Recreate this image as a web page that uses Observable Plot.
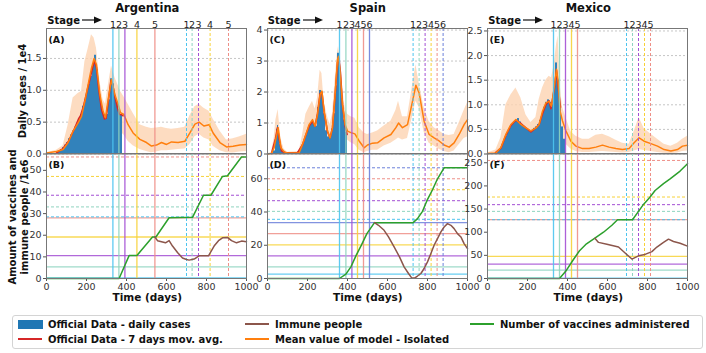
<!DOCTYPE html>
<html><head><meta charset="utf-8">
<script src="https://cdn.jsdelivr.net/npm/d3@7"></script>
<script src="https://cdn.jsdelivr.net/npm/@observablehq/plot@0.6"></script>
<style>
body{margin:0;width:706px;height:353px;position:relative;overflow:hidden;background:#fff;font-family:"DejaVu Sans",sans-serif;color:#111;}
.abs{position:absolute;white-space:nowrap;}
.c{transform:translate(-50%,-50%);}
.lv{transform:translate(0,-50%);}
.b{font-weight:bold;}
.rot{transform:translate(-50%,-50%) rotate(-90deg);}
</style></head><body>
<script>
// ---------------- DATA ----------------
const timeTicks = [0, 200, 400, 600, 800, 1000];

// Argentina
const argTopTicks = [0, 0.5, 1.0, 1.5];
const argBotTicks = [0, 10, 20, 30, 40, 50];
const argCasesDay = [50,60,70,80,90,100,110,120,130,140,150,160,170,180,190,200,210,220,230,240,250,260,270,280,290,300,310,320,330,340,350,360,370];
const argCases = [0.02,0.04,0.07,0.1,0.14,0.18,0.24,0.3,0.36,0.42,0.48,0.55,0.62,0.75,0.85,0.98,1.1,1.22,1.38,1.55,1.32,1.0,0.78,0.62,0.55,0.62,0.85,1.18,1.1,0.92,0.8,0.7,0.62];
const argAvgDay = [50,80,110,140,160,170,185,200,215,230,240,250,262,275,290,298,310,322,330,342,355,365,375,383];
const argAvg = [0.02,0.08,0.2,0.4,0.55,0.6,0.75,0.95,1.15,1.35,1.47,1.35,1.0,0.7,0.55,0.56,0.85,1.15,1.1,0.9,0.72,0.62,0.62,0.6];
const argModelDay = [0,50,83,108,133,158,175,192,208,225,238,250,267,283,295,308,325,342,358,370,387,408,433,467,500,525,550,575,600,625,658,692,717,742,763,787,813,833,867,900,933,967,1000];
const argMean = [0.015,0.04,0.07,0.18,0.36,0.49,0.59,0.83,1.09,1.35,1.5,1.4,0.93,0.67,0.57,0.85,1.17,0.93,0.78,0.65,0.62,0.46,0.33,0.23,0.18,0.125,0.14,0.18,0.15,0.19,0.18,0.2,0.33,0.47,0.5,0.44,0.46,0.33,0.18,0.11,0.12,0.14,0.15];
const argHi = [0.02,0.06,0.13,0.45,0.88,0.95,0.98,1.45,1.65,1.87,1.82,1.66,1.14,0.85,0.78,1.05,1.38,1.2,1.08,0.98,0.9,0.78,0.64,0.46,0.42,0.4,0.41,0.42,0.4,0.39,0.4,0.42,0.6,0.74,0.78,0.72,0.67,0.55,0.36,0.22,0.24,0.27,0.31];
const argLo = [0.01,0.02,0.03,0.06,0.12,0.2,0.26,0.45,0.7,0.95,1.09,1.0,0.6,0.38,0.31,0.5,0.8,0.6,0.45,0.35,0.3,0.2,0.13,0.07,0.04,0.02,0.03,0.05,0.05,0.06,0.07,0.08,0.15,0.27,0.31,0.25,0.22,0.12,0.05,0.02,0.015,0.03,0.04];
const argStage1 = [332,362,392,452,542];
const argStage2 = [700,728,760,818,910];
const argThresh1 = [0.3,5.4,10.6,19.2,28];
const argThresh2 = [28.5,33.1,38.5,47.2,56.2];
const argVaccDay = [0,363,413,452,530,547,613,730,785,822,880,905,975,1000];
const argVacc = [0,0,10.6,10.6,19.2,19.2,28.1,28.3,38.5,38.5,47.2,47.5,56.2,56.2];
const argImmDay = [542,555,575,595,613,630,655,680,700,713,738,763,790,810,838,860,880,905,925,950,975,1000];
const argImm = [19.2,17.5,17,16.5,17.5,15,12,9.5,8.8,8.5,9,10.5,10.5,10.5,15,17.5,18.8,19,17.5,16.5,17.3,17];

// Spain
const spaTopTicks = [0, 1, 2, 3, 4];
const spaBotTicks = [0, 20, 40, 60];
const spaCasesDay = [20,30,40,45,50,55,60,70,80,90,100,110,120,130,140,150,160,170,180,190,200,210,220,230,240,250,260,270,280,290,300,310,320,330,340,350,360,370,380,390];
const spaCases = [0.02,0.1,0.45,0.8,0.92,0.6,0.3,0.12,0.06,0.04,0.03,0.03,0.03,0.03,0.04,0.06,0.12,0.25,0.42,0.6,0.8,0.95,1.05,0.95,0.9,1.5,2.05,1.95,1.3,0.75,0.55,0.5,0.8,1.3,2.2,3.25,2.7,1.8,1.1,0.7];
const spaAvgDay = [20,40,50,58,70,90,150,175,192,208,225,238,250,263,272,283,300,313,325,338,350,357,365,375,388,398];
const spaAvg = [0.02,0.5,0.85,0.5,0.1,0.04,0.04,0.3,0.62,0.9,1.05,0.9,1.3,1.95,2.0,1.35,0.72,0.52,0.85,1.9,2.95,3.1,2.6,1.6,0.9,0.63];
const spaModelDay = [0,20,33,42,53,67,83,100,158,175,192,208,225,238,250,263,272,283,300,313,325,338,350,355,363,375,388,400,417,437,458,483,500,525,550,583,617,642,655,675,700,725,742,758,783,808,833,858,883,908,933,958,983,1000];
const spaMean = [0.0,0.02,0.2,0.5,0.85,0.2,0.07,0.03,0.03,0.31,0.63,0.95,1.11,0.9,1.28,1.92,2.03,1.38,0.74,0.52,0.85,1.92,3.04,3.15,2.66,1.6,0.95,0.74,0.69,0.65,0.42,0.2,0.29,0.35,0.36,0.52,0.63,0.85,1.0,0.85,0.95,1.7,2.22,1.97,1.06,0.63,0.52,0.42,0.29,0.22,0.36,0.63,0.95,1.11];
const spaHi = [0.01,0.05,0.5,1.1,1.44,0.5,0.15,0.06,0.08,0.6,1.28,1.5,1.7,1.45,1.8,2.7,2.6,1.7,1.2,0.95,1.3,2.4,3.3,3.47,3.0,2.13,1.5,1.28,1.2,1.15,0.85,0.68,0.63,0.68,0.74,0.9,1.06,1.4,1.7,1.2,1.2,2.2,2.88,2.3,1.5,1.05,0.85,0.75,0.63,0.6,0.63,1.0,1.4,1.65];
const spaLo = [0,0,0.05,0.2,0.42,0.05,0.02,0.01,0.01,0.1,0.3,0.55,0.7,0.55,0.9,1.45,1.6,1.0,0.45,0.3,0.5,1.4,2.4,2.56,2.2,1.2,0.6,0.45,0.36,0.3,0.12,0.04,0.08,0.12,0.12,0.26,0.35,0.45,0.52,0.45,0.5,1.2,1.7,1.5,0.7,0.35,0.26,0.15,0.08,0.04,0.1,0.3,0.5,0.55];
const spaStage1 = [360,392,422,450,480,510];
const spaStage2 = [728,758,788,818,848,878];
const spaThresh1 = [2.6,7,13.6,20.2,27,33.6];
const spaThresh2 = [35.6,40.4,46.8,53.4,60,66.6];
const spaVaccDay = [0,360,392,417,442,470,497,535,728,750,775,797,825,850,883,1000];
const spaVacc = [0,0,2.6,7,13.6,20.2,27,33.6,33.6,36,40.4,46.8,53.4,60,66.6,66.6];
const spaImmDay = [535,555,583,605,633,660,683,705,720,735,750,767,783,800,817,833,850,867,883,900,917,933,950,967,983,1000];
const spaImm = [33.6,32,29,25,19,13,7,3,0.5,0.3,1.5,3,6,10,15,20,24,28,31,33,32,30,27,25,21,18];

// Mexico
const mexTopTicks = [0, 0.5, 1.0, 1.5, 2.0, 2.5];
const mexBotTicks = [0, 50, 100, 150, 200, 250];
const mexCasesDay = [30,40,50,60,70,80,90,100,110,120,130,140,150,160,170,180,190,200,210,220,230,240,250,260,270,280,290,300,310,320,330,340,350,360,370,380];
const mexCases = [0.01,0.03,0.06,0.1,0.18,0.27,0.36,0.45,0.53,0.6,0.65,0.68,0.72,0.65,0.6,0.56,0.52,0.48,0.45,0.47,0.52,0.55,0.6,0.68,0.8,0.95,1.05,1.1,1.05,1.0,1.35,1.85,1.5,0.95,0.55,0.3];
const mexAvgDay = [40,67,92,117,142,167,192,217,242,258,275,292,308,317,333,345,355,365];
const mexAvg = [0.03,0.12,0.38,0.58,0.69,0.62,0.53,0.45,0.53,0.6,0.82,1.0,1.08,0.92,1.3,1.7,1.3,0.95];
const mexModelDay = [0,42,67,92,117,142,167,192,217,242,258,275,292,308,320,333,345,353,363,375,392,417,442,475,508,542,575,608,642,675,708,733,758,783,817,850,883,917,950,975,1000];
const mexMean = [0.01,0.02,0.13,0.4,0.6,0.7,0.6,0.53,0.47,0.53,0.6,0.87,1.04,1.07,0.97,1.34,1.72,1.48,0.87,0.67,0.47,0.26,0.16,0.11,0.11,0.14,0.18,0.14,0.11,0.09,0.11,0.23,0.33,0.26,0.21,0.16,0.09,0.06,0.09,0.16,0.18];
const mexHi = [0.02,0.08,0.33,1.0,1.2,1.34,1.14,0.8,0.64,0.74,1.1,1.34,1.5,1.58,1.55,1.8,2.22,2.4,1.41,0.95,0.74,0.45,0.36,0.3,0.3,0.38,0.4,0.35,0.28,0.22,0.2,0.45,0.74,0.52,0.4,0.3,0.2,0.16,0.22,0.3,0.36];
const mexLo = [0,0,0.02,0.06,0.15,0.23,0.22,0.2,0.2,0.22,0.25,0.38,0.5,0.53,0.5,0.7,0.87,0.8,0.45,0.3,0.2,0.1,0.05,0.03,0.03,0.04,0.05,0.04,0.03,0.02,0.03,0.06,0.09,0.07,0.05,0.03,0.015,0.01,0.02,0.05,0.06];
const mexStage1 = [330,360,390,420,450];
const mexStage2 = [695,725,755,785,815];
const mexThresh1 = [0.7,18,31,48,127];
const mexThresh2 = [127,145,159.5,176,255];
const mexVaccDay = [0,360,395,428,460,495,537,580,622,650,725,755,780,813,838,880,913,963,1000];
const mexVacc = [0,0,18,40,60,75,87,100,115,127,127,145,160,176,190,205,215,232,248];
const mexImmDay = [537,555,597,655,688,722,755,788,822,847,880,905,930,963,1000];
const mexImm = [87,78,74,68,55,42,49,52,58,68,78,85,80,76,70];

// ---------------- BUILD ----------------
const stageColors = ["#4cc4ef","#8ed4bf","#a34fd4","#f7d238","#ee8f87","#6c80da"];
const rows = (t, v) => t.map((d, i) => ({t: d, v: v[i]}));
const barRows = (t, v, end) => v.map((y, i) => ({x1: t[i], x2: i + 1 < t.length ? t[i + 1] : end, y}));
const modelRows = (t, m, lo, hi) => t.map((d, i) => ({t: d, m: m[i], lo: lo[i], hi: hi[i]}));
const stageRows = s => s.map((x, i) => ({x, label: String(i + 1), color: stageColors[i]}));
const threshRows = s => s.map((y, i) => ({y, color: stageColors[i]}));

const countries = [
  {name: "Argentina", x0: 46.3, top: "(A)", bot: "(B)", topMax: 1.97, botMax: 57.8,
   topTicks: argTopTicks, botTicks: argBotTicks, topFmt: d3.format(".1f"),
   bars: barRows(argCasesDay, argCases, 380), avg: rows(argAvgDay, argAvg),
   model: modelRows(argModelDay, argMean, argLo, argHi),
   s1: stageRows(argStage1), s2: stageRows(argStage2), t1: threshRows(argThresh1), t2: threshRows(argThresh2),
   vacc: rows(argVaccDay, argVacc), imm: rows(argImmDay, argImm)},
  {name: "Spain", x0: 266.8, top: "(C)", bot: "(D)", topMax: 4.05, botMax: 75.2,
   topTicks: spaTopTicks, botTicks: spaBotTicks, topFmt: d3.format("d"),
   bars: barRows(spaCasesDay, spaCases, 400), avg: rows(spaAvgDay, spaAvg),
   model: modelRows(spaModelDay, spaMean, spaLo, spaHi),
   s1: stageRows(spaStage1), s2: stageRows(spaStage2), t1: threshRows(spaThresh1), t2: threshRows(spaThresh2),
   vacc: rows(spaVaccDay, spaVacc), imm: rows(spaImmDay, spaImm)},
  {name: "Mexico", x0: 487.3, top: "(E)", bot: "(F)", topMax: 2.55, botMax: 270,
   topTicks: mexTopTicks, botTicks: mexBotTicks, topFmt: d3.format(".1f"),
   bars: barRows(mexCasesDay, mexCases, 390), avg: rows(mexAvgDay, mexAvg),
   model: modelRows(mexModelDay, mexMean, mexLo, mexHi),
   s1: stageRows(mexStage1), s2: stageRows(mexStage2), t1: threshRows(mexThresh1), t2: threshRows(mexThresh2),
   vacc: rows(mexVaccDay, mexVacc), imm: rows(mexImmDay, mexImm)}
];

const style = {fontFamily: "DejaVu Sans", fontSize: "9.5px", color: "#333", overflow: "visible", background: "transparent"};
const ML = 34, MR = 6, PW = 200;

function place(el, left, top) {
  const d = document.createElement("div");
  d.className = "abs";
  d.style.left = left + "px"; d.style.top = top + "px";
  d.appendChild(el);
  document.body.appendChild(d);
}
function txt(html, left, top, cls, extra) {
  const d = document.createElement("div");
  d.className = "abs " + (cls || "");
  d.style.left = left + "px"; d.style.top = top + "px";
  if (extra) Object.assign(d.style, extra);
  d.innerHTML = html;
  document.body.appendChild(d);
  return d;
}

function verticals(c) {
  return [
    Plot.ruleX(c.s1, {x: "x", stroke: "color", strokeWidth: 1.3, strokeOpacity: 0.9}),
    Plot.ruleX(c.s2, {x: "x", stroke: "color", strokeWidth: 1, strokeDasharray: "3,2"})
  ];
}

for (const c of countries) {
  const top = Plot.plot({
    width: PW + ML + MR, height: 28 + 125.5, marginLeft: ML, marginRight: MR, marginTop: 28, marginBottom: 0,
    x: {domain: [0, 1000], axis: null},
    y: {domain: [0, c.topMax], axis: null},
    style,
    marks: [
      Plot.gridY(c.topTicks, {stroke: "#b8b8b8", strokeDasharray: "2,2", strokeOpacity: 0.8}),
      Plot.areaY(c.model, {x: "t", y1: "lo", y2: "hi", fill: "#fdd3b2", fillOpacity: 0.8}),
      Plot.rectY(c.bars, {x1: "x1", x2: "x2", y1: 0, y2: "y", fill: "#3282bb"}),
      Plot.line(c.avg, {x: "t", y: "v", stroke: "#d62728", strokeWidth: 1.6}),
      Plot.line(c.model, {x: "t", y: "m", stroke: "#ff7f0e", strokeWidth: 1.5}),
      ...verticals(c),
      Plot.text(c.s1, {x: "x", text: "label", frameAnchor: "top", dy: -7.5, fontSize: 9.5, fill: "#222"}),
      Plot.text(c.s2, {x: "x", text: "label", frameAnchor: "top", dy: -7.5, fontSize: 9.5, fill: "#222"}),
      Plot.text([c.top], {frameAnchor: "top-left", dx: 2, dy: 8, fontWeight: "bold", fontSize: 9.5, fill: "#111"}),
      Plot.axisY(c.topTicks, {tickSize: 3, tickPadding: 2, tickFormat: c.topFmt, label: null, stroke: "#555"}),
      Plot.frame({stroke: "#777"})
    ]
  });
  place(top, c.x0 - ML, -0.5);

  const bot = Plot.plot({
    width: PW + ML + MR, height: 125 + 30, marginLeft: ML, marginRight: MR, marginTop: 0, marginBottom: 30,
    x: {domain: [0, 1000], axis: null},
    y: {domain: [0, c.botMax], axis: null},
    style,
    marks: [
      Plot.ruleY(c.t1, {y: "y", stroke: "color", strokeWidth: 1.3, strokeOpacity: 0.85}),
      Plot.ruleY(c.t2, {y: "y", stroke: "color", strokeWidth: 1, strokeDasharray: "3,2"}),
      ...verticals(c),
      Plot.line(c.vacc, {x: "t", y: "v", stroke: "#2ca02c", strokeWidth: 1.5}),
      Plot.line(c.imm, {x: "t", y: "v", stroke: "#8c564b", strokeWidth: 1.5}),
      Plot.text([c.bot], {frameAnchor: "top-left", dx: 2, dy: 8, fontWeight: "bold", fontSize: 9.5, fill: "#111"}),
      Plot.axisY(c.botTicks, {tickSize: 3, tickPadding: 2, tickFormat: d3.format("d"), label: null, stroke: "#555"}),
      Plot.axisX(timeTicks, {tickSize: 3, tickPadding: 2, tickFormat: d3.format("d"), label: null, stroke: "#555"}),
      Plot.frame({stroke: "#777"})
    ]
  });
  place(bot, c.x0 - ML, 153.3);

  // titles and labels
  txt(c.name, c.x0 + 101, 8, "c b", {fontSize: "11.5px"});
  txt("Time (days)", c.x0 + 101, 297, "c b", {fontSize: "10.5px"});
  txt("Stage", c.x0 + 1, 20, "lv b", {fontSize: "10px"});
  txt('<svg width="20" height="8"><line x1="0" y1="4" x2="14" y2="4" stroke="#111" stroke-width="1.2"/><polygon points="12,0.5 20,4 12,7.5" fill="#111"/></svg>',
      c.x0 + 36, 16, "", {lineHeight: "0"});
}

// y labels
txt("Daily cases / 1e4", 22, 91, "rot b", {fontSize: "10px"});
txt("Amount of vaccines and", 12, 217, "rot b", {fontSize: "10px"});
txt("immune people /1e6", 24, 217, "rot b", {fontSize: "10px"});

// legend
const lg = txt("", 12, 315, "", {width: "691px", height: "34px", border: "1px solid #d4d4d4", borderRadius: "3px", boxSizing: "border-box"});
const legendItems = [
  {label: "Official Data - daily cases", type: "rect", color: "#1f77b4", x: 18, y: 324},
  {label: "Official Data - 7 days mov. avg.", type: "line", color: "#d62728", x: 18, y: 339},
  {label: "Immune people", type: "line", color: "#8c564b", x: 245, y: 324},
  {label: "Mean value of model - Isolated", type: "line", color: "#ff7f0e", x: 245, y: 339},
  {label: "Number of vaccines administered", type: "line", color: "#2ca02c", x: 470, y: 324}
];
for (const it of legendItems) {
  if (it.type === "rect") txt("", it.x, it.y - 4.5, "", {width: "25px", height: "9px", background: it.color});
  else txt("", it.x, it.y - 1, "", {width: "24px", height: "2px", background: it.color});
  txt(it.label, it.x + 30, it.y, "lv b", {fontSize: "10px"});
}
</script>
</body></html>
